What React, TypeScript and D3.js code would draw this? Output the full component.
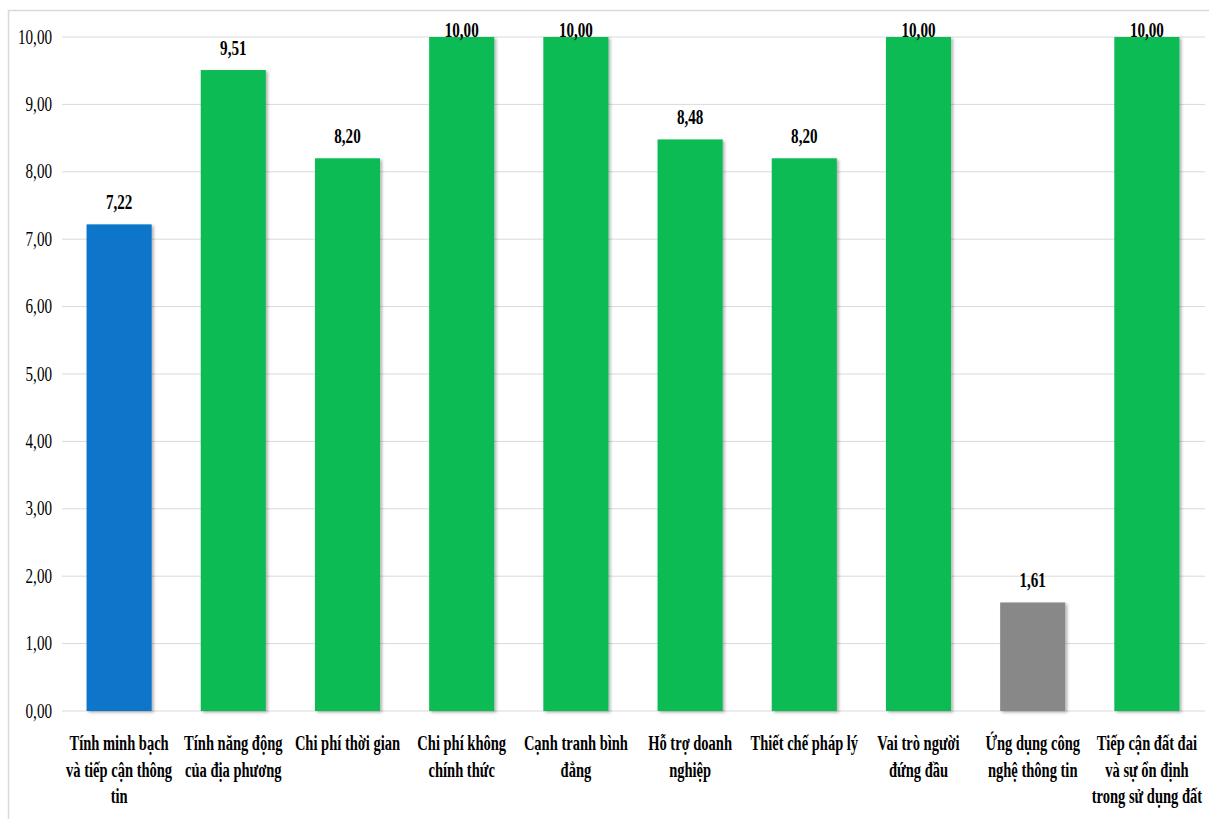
import React from "react";
import * as d3 from "d3";

// PCI component scores
const categories: string[][] = [
  ["Tính minh bạch", "và tiếp cận thông", "tin"],
  ["Tính năng động", "của địa phương"],
  ["Chi phí thời gian"],
  ["Chi phí không", "chính thức"],
  ["Cạnh tranh bình", "đẳng"],
  ["Hỗ trợ doanh", "nghiệp"],
  ["Thiết chế pháp lý"],
  ["Vai trò người", "đứng đầu"],
  ["Ứng dụng công", "nghệ thông tin"],
  ["Tiếp cận đất đai", "và sự ổn định", "trong sử dụng đất"],
];
const values: number[] = [7.22, 9.51, 8.2, 10.0, 10.0, 8.48, 8.2, 10.0, 1.61, 10.0];
const barColors: string[] = [
  "#0a76cb", "#0abb55", "#0abb55", "#0abb55", "#0abb55",
  "#0abb55", "#0abb55", "#0abb55", "#888888", "#0abb55",
];
const yTicks: number[] = [0, 1, 2, 3, 4, 5, 6, 7, 8, 9, 10];

const W = 1209;
const H = 819;
const FONT = "'Liberation Serif', 'Times New Roman', serif";
const SX_NUM = 0.72; // condensed numbers
const SX_CAT = 0.66; // condensed category labels

const fmt = (v: number) => v.toFixed(2).replace(".", ",");

export default function App() {
  const x = d3
    .scaleBand<number>()
    .domain(d3.range(values.length))
    .range([62, 1204])
    .paddingInner(0.43)
    .paddingOuter(0.215);
  const y = d3.scaleLinear().domain([0, 10]).range([711, 37]);

  return (
    <svg
      width={W}
      height={H}
      style={{ position: "absolute", left: 0, top: 0, background: "#fff" }}
    >
      <defs>
        <filter id="barShadow" x="-20%" y="-5%" width="140%" height="115%">
          <feDropShadow dx="2" dy="1.5" stdDeviation="1.5" floodColor="#000" floodOpacity="0.3" />
        </filter>
      </defs>
      {/* chart border */}
      <path d={`M8.5,${H} V10.5 H${W}`} fill="none" stroke="#d9d9d9" strokeWidth={1.5} />

      {/* gridlines and y tick labels */}
      {yTicks.map((t) => (
        <g key={t}>
          <line x1={62} x2={1205} y1={y(t)} y2={y(t)} stroke="#d9d9d9" strokeWidth={1} />
          <text
            transform={`translate(52,${y(t) + 6.5}) scale(${SX_NUM},1)`}
            textAnchor="end"
            fontFamily={FONT}
            fontSize={21}
            fill="#000"
          >
            {fmt(t)}
          </text>
        </g>
      ))}

      {/* bars */}
      {values.map((v, i) => (
        <rect
          key={i}
          x={x(i)!}
          y={y(v)}
          width={x.bandwidth()}
          height={y(0) - y(v)}
          fill={barColors[i]}
          filter="url(#barShadow)"
        />
      ))}

      {/* value labels */}
      {values.map((v, i) => {
        const cx = x(i)! + x.bandwidth() / 2;
        const by = Math.max(y(v) - 15, 37);
        return (
          <text
            key={i}
            transform={`translate(${cx},${by}) scale(${SX_NUM},1)`}
            textAnchor="middle"
            fontFamily={FONT}
            fontWeight="bold"
            fontSize={21}
            fill="#000"
          >
            {fmt(v)}
          </text>
        );
      })}

      {/* category labels */}
      {categories.map((lines, i) => {
        const cx = x(i)! + x.bandwidth() / 2;
        return (
          <g key={i}>
            {lines.map((ln, j) => (
              <text
                key={j}
                transform={`translate(${cx},${750 + j * 26.7}) scale(${SX_CAT},1)`}
                textAnchor="middle"
                fontFamily={FONT}
                fontWeight="bold"
                fontSize={22}
                fill="#000"
              >
                {ln}
              </text>
            ))}
          </g>
        );
      })}
    </svg>
  );
}
